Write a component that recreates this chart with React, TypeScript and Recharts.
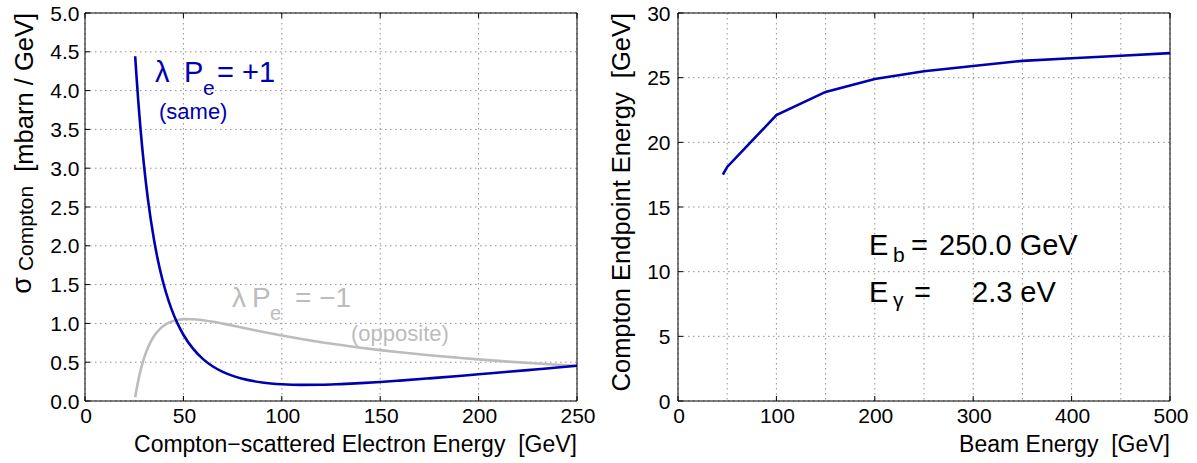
import React from 'react';
import { LineChart, Line, XAxis, YAxis, CartesianGrid } from 'recharts';

// Compton-scattered electron spectrum (beam 250 GeV, laser 2.3 eV)
const electronEnergy = [25.5, 26, 27, 28, 29, 30, 32, 35, 38, 41, 44, 47, 50, 55, 60, 65, 70, 80, 90, 100, 110, 120, 130, 140, 150, 160, 175, 190, 200, 215, 230, 240, 250];
const sigmaSame = [4.443, 4.247, 3.887, 3.568, 3.284, 3.029, 2.594, 2.087, 1.704, 1.411, 1.181, 1.0, 0.854, 0.671, 0.54, 0.445, 0.375, 0.286, 0.239, 0.216, 0.208, 0.209, 0.218, 0.23, 0.245, 0.263, 0.292, 0.322, 0.344, 0.376, 0.409, 0.431, 0.454];
const sigmaOpposite = [0.049, 0.123, 0.255, 0.369, 0.468, 0.552, 0.689, 0.834, 0.927, 0.987, 1.024, 1.045, 1.055, 1.054, 1.041, 1.021, 0.997, 0.945, 0.893, 0.844, 0.799, 0.758, 0.721, 0.687, 0.656, 0.628, 0.59, 0.557, 0.536, 0.508, 0.483, 0.468, 0.454];

// Compton endpoint vs beam energy
const beamEnergy = [45.6, 50, 100, 150, 200, 250, 300, 350, 400, 450, 500];
const endpointEnergy = [17.5, 18.1, 22.1, 23.9, 24.9, 25.5, 25.9, 26.3, 26.5, 26.7, 26.9];

// Tick values
const spectrumXTicks = [0, 50, 100, 150, 200, 250];
const spectrumYTicks = [0, 0.5, 1, 1.5, 2, 2.5, 3, 3.5, 4, 4.5, 5];
const beamXTicks = [0, 50, 100, 150, 200, 250, 300, 350, 400, 450, 500];
const endpointYTicks = [0, 5, 10, 15, 20, 25, 30];

const spectrumData = electronEnergy.map((e, i) => ({ e, same: sigmaSame[i], opposite: sigmaOpposite[i] }));
const endpointData = beamEnergy.map((b, i) => ({ b, end: endpointEnergy[i] }));

const FONT = '"Liberation Sans", Arial, Helvetica, sans-serif';
const BLUE = '#0000b0';
const GREY = '#bcbcbc';
const TICK_FONT = 21;
const MARK = 5;

const gridProps = { stroke: '#909090', strokeDasharray: '1.5 3.5', strokeWidth: 1 };

function bottomTick(step: number) {
  return (props: any) => {
    const { x, y, payload } = props;
    const v = payload.value;
    const on = Math.abs(v / step - Math.round(v / step)) < 1e-6;
    if (!on) return <g />;
    return (
      <g>
        <line x1={x} x2={x} y1={y} y2={y - MARK} stroke="#000" strokeWidth={1} />
        <text x={x + 1} y={y + 22} textAnchor="middle" fontSize={TICK_FONT} fontFamily={FONT} fill="#000">
          {String(v)}
        </text>
      </g>
    );
  };
}

function topTick(step: number) {
  return (props: any) => {
    const { x, y, payload } = props;
    const v = payload.value;
    const on = Math.abs(v / step - Math.round(v / step)) < 1e-6;
    if (!on) return <g />;
    return <line x1={x} x2={x} y1={y} y2={y + MARK} stroke="#000" strokeWidth={1} />;
  };
}

function leftTick(gap: number, digits: number) {
  return (props: any) => {
    const { x, y, payload } = props;
    const v = payload.value as number;
    return (
      <g>
        <line x1={x} x2={x + MARK} y1={y} y2={y} stroke="#000" strokeWidth={1} />
        <text x={x - gap} y={y + 7.5} textAnchor="end" fontSize={TICK_FONT} fontFamily={FONT} fill="#000">
          {v.toFixed(digits)}
        </text>
      </g>
    );
  };
}

const rightTick = (props: any) => {
  const { x, y } = props;
  return <line x1={x} x2={x - MARK} y1={y} y2={y} stroke="#000" strokeWidth={1} />;
};

const axisLine = { stroke: '#000', strokeWidth: 1 };

function SpectrumChart() {
  return (
    <LineChart width={600} height={463} data={spectrumData} margin={{ top: 12, right: 22, bottom: 0, left: 0 }}>
      <CartesianGrid {...gridProps} />
      <XAxis dataKey="e" type="number" domain={[0, 250]} ticks={spectrumXTicks} interval={0}
        height={62} tickSize={0} tickMargin={0} tickLine={false} axisLine={axisLine} tick={bottomTick(50)} />
      <XAxis xAxisId="top" orientation="top" dataKey="e" type="number" domain={[0, 250]} ticks={spectrumXTicks} interval={0}
        height={1} tickSize={0} tickMargin={0} tickLine={false} axisLine={axisLine} tick={topTick(50)} />
      <YAxis type="number" domain={[0, 5]} ticks={spectrumYTicks} interval={0}
        width={85} tickSize={0} tickMargin={0} tickLine={false} axisLine={axisLine} tick={leftTick(5.5, 1)} />
      <YAxis yAxisId="right" orientation="right" type="number" domain={[0, 5]} ticks={spectrumYTicks} interval={0}
        width={1} tickSize={0} tickMargin={0} tickLine={false} axisLine={axisLine} tick={rightTick} />
      <Line dataKey="opposite" type="monotone" stroke={GREY} strokeWidth={2.6} dot={false} activeDot={false} isAnimationActive={false} />
      <Line dataKey="same" type="monotone" stroke={BLUE} strokeWidth={2.6} dot={false} activeDot={false} isAnimationActive={false} />
    </LineChart>
  );
}

function EndpointChart() {
  return (
    <LineChart width={597} height={463} data={endpointData} margin={{ top: 12, right: 26, bottom: 0, left: 0 }}>
      <CartesianGrid {...gridProps} />
      <XAxis dataKey="b" type="number" domain={[0, 500]} ticks={beamXTicks} interval={0}
        height={62} tickSize={0} tickMargin={0} tickLine={false} axisLine={axisLine} tick={bottomTick(100)} />
      <XAxis xAxisId="top" orientation="top" dataKey="b" type="number" domain={[0, 500]} ticks={beamXTicks} interval={0}
        height={1} tickSize={0} tickMargin={0} tickLine={false} axisLine={axisLine} tick={topTick(100)} />
      <YAxis type="number" domain={[0, 30]} ticks={endpointYTicks} interval={0}
        width={78} tickSize={0} tickMargin={0} tickLine={false} axisLine={axisLine} tick={leftTick(7.5, 0)} />
      <YAxis yAxisId="right" orientation="right" type="number" domain={[0, 30]} ticks={endpointYTicks} interval={0}
        width={1} tickSize={0} tickMargin={0} tickLine={false} axisLine={axisLine} tick={rightTick} />
      <Line dataKey="end" type="linear" stroke={BLUE} strokeWidth={2.6} dot={false} activeDot={false} isAnimationActive={false} />
    </LineChart>
  );
}

const NB = '\u00a0';

function Labels() {
  return (
    <svg width={1197} height={463} style={{ position: 'absolute', left: 0, top: 0, pointerEvents: 'none' }} fontFamily={FONT}>
      {/* axis titles */}
      <text x={577} y={452} textAnchor="end" fontSize={23} fill="#000">
        {`Compton\u2212scattered Electron Energy${NB}${NB}[GeV]`}
      </text>
      <text x={1170} y={452} textAnchor="end" fontSize={23} fill="#000">
        {`Beam Energy${NB}${NB}[GeV]`}
      </text>
      <text transform="translate(33,13) rotate(-90)" textAnchor="end" fill="#000">
        <tspan fontSize={27} dy={-2}>σ</tspan>
        <tspan fontSize={21} dy={2}>{`${NB}Compton`}</tspan>
        <tspan fontSize={25.5} dy={0}>{`${NB}${NB}[mbarn / GeV]`}</tspan>
      </text>
      <text transform="translate(630,13) rotate(-90)" textAnchor="end" fontSize={25.5} fill="#000">
        {`Compton Endpoint Energy${NB}${NB}[GeV]`}
      </text>

      {/* helicity annotations */}
      <g fill={BLUE}>
        <text x={155} y={82} fontSize={29}>λ</text>
        <text x={184} y={82} fontSize={29}>P</text>
        <text x={203} y={95} fontSize={21}>e</text>
        <text x={217} y={82} fontSize={29}>= +1</text>
        <text x={159} y={119} fontSize={22}>(same)</text>
      </g>
      <g fill={GREY}>
        <text x={232} y={307} fontSize={28}>λ</text>
        <text x={252} y={307} fontSize={28}>P</text>
        <text x={270} y={320} fontSize={20}>e</text>
        <text x={295} y={307} fontSize={28}>= −1</text>
        <text x={351} y={341} fontSize={22}>(opposite)</text>
      </g>

      {/* beam parameters */}
      <g fill="#000">
        <text x={869} y={255} fontSize={29}>E</text>
        <text x={893} y={262} fontSize={21}>b</text>
        <text x={911} y={255} fontSize={29}>=</text>
        <text x={939} y={255} fontSize={29}>250.0 GeV</text>
        <text x={869} y={302} fontSize={29}>E</text>
        <text x={893} y={307} fontSize={21}>γ</text>
        <text x={914} y={302} fontSize={29}>=</text>
        <text x={972} y={302} fontSize={29}>2.3 eV</text>
      </g>
    </svg>
  );
}

export default function App() {
  return (
    <div style={{ position: 'absolute', left: 0, top: 0, width: 1197, height: 463, background: '#fff', fontFamily: FONT }}>
      <div style={{ position: 'absolute', left: 0, top: 0 }}>
        <SpectrumChart />
      </div>
      <div style={{ position: 'absolute', left: 600, top: 0 }}>
        <EndpointChart />
      </div>
      <Labels />
    </div>
  );
}
